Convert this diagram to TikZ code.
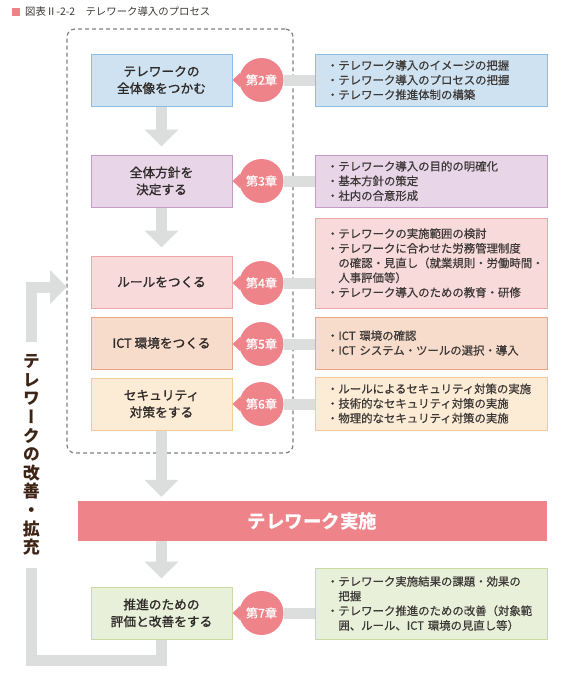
\documentclass[tikz,border=0pt]{standalone}
\usepackage{fontspec}
\setmainfont{Noto Sans CJK JP}
\usetikzlibrary{arrows.meta}
\definecolor{chapred}{HTML}{EE838A}
\definecolor{linkgray}{HTML}{DCDDDD}
\definecolor{dashgray}{HTML}{808080}
\definecolor{textgray}{HTML}{2E2A28}
\definecolor{notegray}{HTML}{3C3836}
\definecolor{loopbrown}{HTML}{3E2414}
\definecolor{blueA}{HTML}{CFE2F2}
\definecolor{blueB}{HTML}{8CBBE3}
\definecolor{purpA}{HTML}{E8D5E8}
\definecolor{purpB}{HTML}{C59CC6}
\definecolor{pinkA}{HTML}{F8DADB}
\definecolor{pinkB}{HTML}{F0A5A9}
\definecolor{salmA}{HTML}{F7DBCB}
\definecolor{salmB}{HTML}{E9A688}
\definecolor{cremA}{HTML}{FCEBD5}
\definecolor{cremB}{HTML}{F2CD92}
\definecolor{grenA}{HTML}{E8F0DA}
\definecolor{grenB}{HTML}{C9DBA2}
\tikzset{
  stepbox/.style={draw, line width=1pt, minimum width=141pt, minimum height=52pt, align=center, text=textgray, font=\fontsize{12.7}{17}\selectfont\addfontfeatures{FakeBold=1.2}},
  notebox/.style={draw, line width=1pt, minimum width=232pt, text width=208pt, inner xsep=12pt, align=left, text=notegray, font=\fontsize{11.4}{14.7}\selectfont\addfontfeatures{FakeBold=0.5}},
  chap/.style={circle, fill=chapred, minimum size=44pt, inner sep=0pt, text=white, font=\fontsize{12.2}{12}\selectfont\addfontfeatures{FakeBold=0.6}},
  link/.style={draw=linkgray, line width=11pt, line join=miter},
  flow/.style={link, -{Triangle[width=33pt,length=17pt]}}
}
\begin{document}
\begin{tikzpicture}[x=1pt,y=1pt]
\useasboundingbox (0,0) rectangle (569,-688);
\node [fill=chapred, minimum size=8pt, inner sep=0pt] (mark) at (16,-12) {};
\node [anchor=west, inner sep=0pt, text=notegray, font=\fontsize{10.4}{12}\selectfont] (title) at (25,-12) {図表Ⅱ-2-2　テレワーク導入のプロセス};
\node [draw=dashgray, dashed, dash pattern=on 4pt off 3pt, line width=1.2pt, rounded corners=8pt, minimum width=226pt, minimum height=424pt] (frame) at (180,-241) {};
\node [stepbox, fill=blueA, draw=blueB] (whole) at (161.5,-80) {テレワークの\\全体像をつかむ};
\node [stepbox, fill=purpA, draw=purpB] (policy) at (161.5,-181) {全体方針を\\決定する};
\node [stepbox, fill=pinkA, draw=pinkB] (rules) at (161.5,-282) {ルールをつくる};
\node [stepbox, fill=salmA, draw=salmB] (ict) at (161.5,-343) {ICT 環境をつくる};
\node [stepbox, fill=cremA, draw=cremB] (secure) at (161.5,-404) {セキュリティ\\対策をする};
\node [fill=chapred, minimum width=469pt, minimum height=40pt, text=white, font=\fontsize{18.5}{20}\selectfont\bfseries] (run) at (312.5,-521) {テレワーク実施};
\node [stepbox, fill=grenA, draw=grenB] (review) at (161.5,-613) {推進のための\\評価と改善をする};
\node [chap] (ch2) at (261.5,-80) {第2章};
\node [chap] (ch3) at (261.5,-181) {第3章};
\node [chap] (ch4) at (261.5,-283) {第4章};
\node [chap] (ch5) at (261.5,-344) {第5章};
\node [chap] (ch6) at (261.5,-404) {第6章};
\node [chap] (ch7) at (261.5,-613) {第7章};
\node [notebox, fill=blueA, draw=blueB, minimum height=52pt] (d2) at (431,-80) {・テレワーク導入のイメージの把握\\・テレワーク導入のプロセスの把握\\・テレワーク推進体制の構築};
\node [notebox, fill=purpA, draw=purpB, minimum height=52pt] (d3) at (431,-181) {・テレワーク導入の目的の明確化\\・基本方針の策定\\・社内の合意形成};
\node [notebox, fill=pinkA, draw=pinkB, minimum height=90pt] (d4) at (431,-263) {・テレワークの実施範囲の検討\\・テレワークに合わせた労務管理制度\\\hspace*{1em}の確認・見直し（就業規則・労働時間・\\\hspace*{1em}人事評価等）\\・テレワーク導入のための教育・研修};
\node [notebox, fill=salmA, draw=salmB, minimum height=52pt] (d5) at (431,-343) {・ICT 環境の確認\\・ICT システム・ツールの選択・導入};
\node [notebox, fill=cremA, draw=cremB, minimum height=53pt] (d6) at (431,-403.5) {・ルールによるセキュリティ対策の実施\\・技術的なセキュリティ対策の実施\\・物理的なセキュリティ対策の実施};
\node [notebox, fill=grenA, draw=grenB, minimum height=71pt] (d7) at (431,-603.5) {・テレワーク実施結果の課題・効果の\\\hspace*{1em}把握\\・テレワーク推進のための改善（対象範\\\hspace*{1em}囲、ルール、ICT 環境の見直し等）};
\node [minimum height=226pt, inner sep=0pt, align=center, text=loopbrown, font=\fontsize{17}{18.6}\selectfont\bfseries\addfontfeatures{RawFeature=+vert}] (loop) at (31.5,-455) {テ\\レ\\ワ\\ー\\ク\\の\\改\\善\\・\\拡\\充};
\coordinate (corner) at (31.5,-660.5);
\coordinate (entry) at (67,-287);
\draw [flow] (whole.south) -- ([yshift=8pt]policy.north);
\draw [flow] (policy.south) -- ([yshift=8pt]rules.north);
\draw [flow] (secure.south) -- ([yshift=4pt]secure.south |- run.north);
\draw [flow] (review.north |- run.south) -- ([yshift=8pt]review.north);
\draw [link] (review.south) |- (corner) -- (loop.south);
\draw [flow] (loop.north) |- (entry);
\foreach \c/\d in {ch2/d2, ch3/d3, ch4/d4, ch5/d5, ch6/d6, ch7/d7}
  \draw [link] (\c.east) -- (\d.west |- \c);
\foreach \c in {ch2, ch3, ch4, ch5, ch6, ch7}
  \fill [chapred] (\c.160) -- (whole.east |- \c) -- (\c.200) -- cycle;
\end{tikzpicture}
\end{document}
